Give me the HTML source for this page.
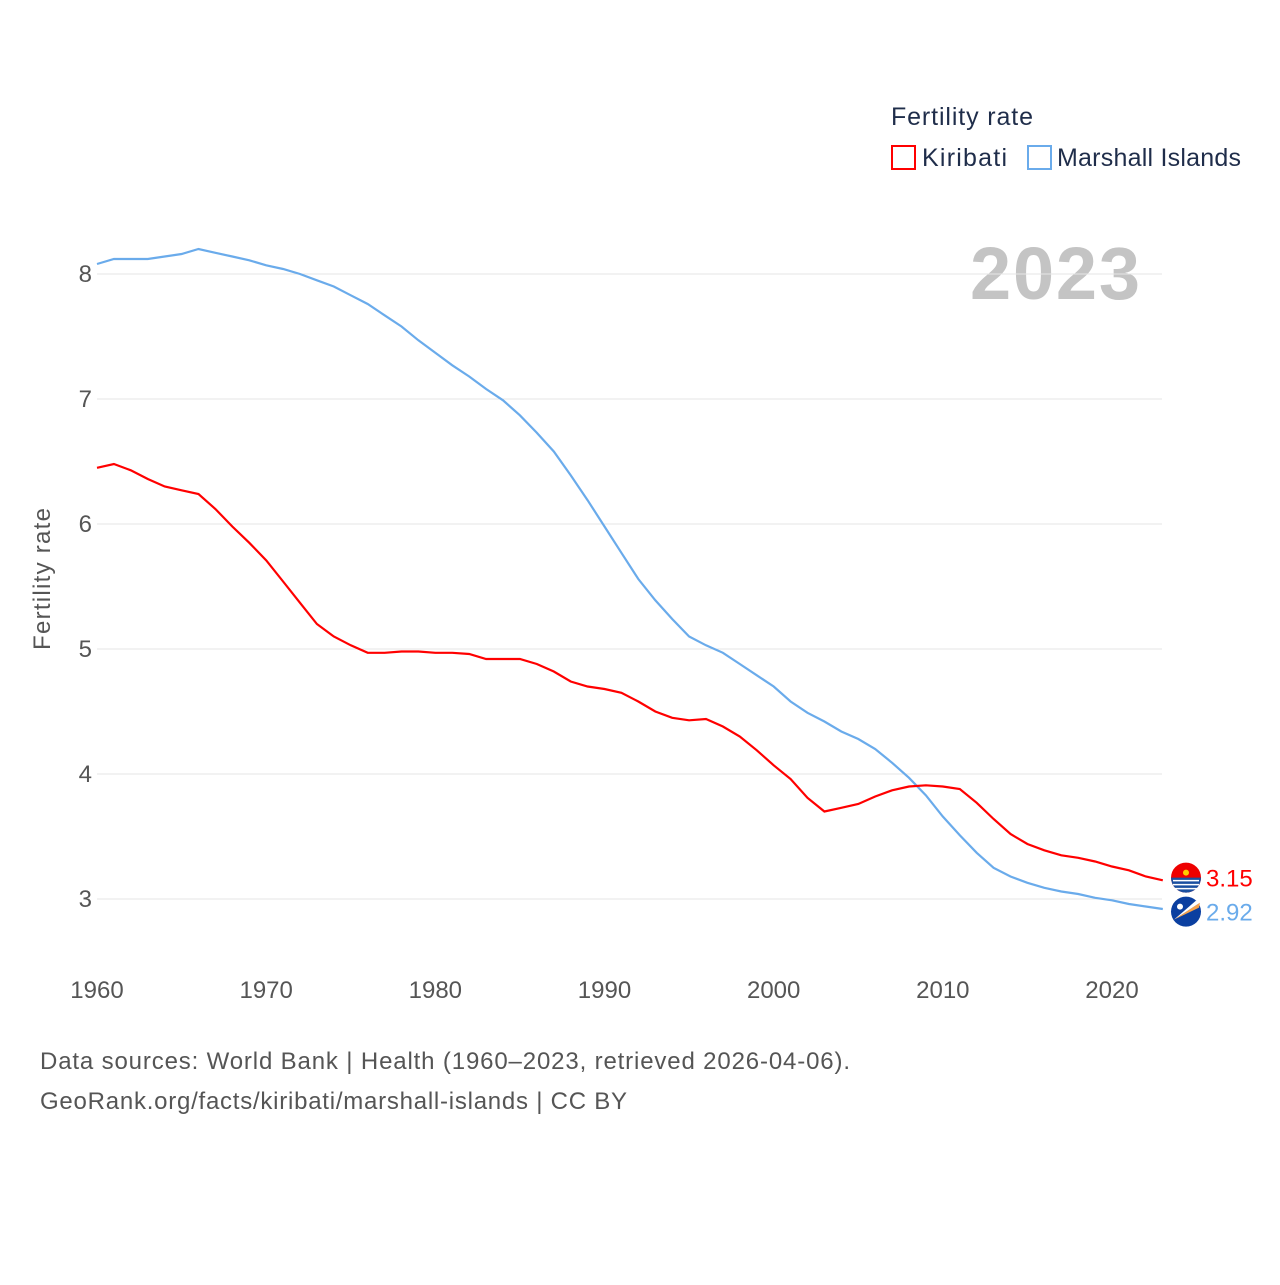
<!DOCTYPE html>
<html><head><meta charset="utf-8"><style>
body{margin:0;background:#fff;font-family:"Liberation Sans",sans-serif}
svg text{font-family:"Liberation Sans",sans-serif}
</style></head><body>
<svg id="chart" width="1280" height="1280" viewBox="0 0 1280 1280">
<text x="891" y="125" font-size="25" fill="#1f2d4a" textLength="142">Fertility rate</text>
<g><rect x="892" y="146" width="23" height="23" fill="none" stroke="#f00" stroke-width="2"/><text x="922" y="166" font-size="25" fill="#1f2d4a" textLength="85">Kiribati</text></g>
<g><rect x="1028" y="146" width="23" height="23" fill="none" stroke="#6aabeb" stroke-width="2"/><text x="1057" y="166" font-size="25" fill="#1f2d4a" textLength="184">Marshall Islands</text></g>
<text x="970" y="299" font-size="74" font-weight="bold" fill="#c4c4c4" textLength="170">2023</text>
<text transform="translate(50,579) rotate(-90)" font-size="24" fill="#555" text-anchor="middle" textLength="142">Fertility rate</text>
<g id="grid"></g><g id="xt"></g><g id="lines"></g>
<text x="40" y="1069" font-size="24" fill="#555" textLength="810">Data sources: World Bank | Health (1960–2023, retrieved 2026-04-06).</text>
<text x="40" y="1109" font-size="24" fill="#555" textLength="587">GeoRank.org/facts/kiribati/marshall-islands | CC BY</text>
</svg>
<script>
const years=[];for(let y=1960;y<=2023;y++)years.push(y);
const yTicks=[3,4,5,6,7,8];
const xTicks=[1960,1970,1980,1990,2000,2010,2020];
const kiribati=[6.45,6.48,6.43,6.36,6.3,6.27,6.24,6.12,5.98,5.85,5.71,5.54,5.37,5.2,5.1,5.03,4.97,4.97,4.98,4.98,4.97,4.97,4.96,4.92,4.92,4.92,4.88,4.82,4.74,4.7,4.68,4.65,4.58,4.5,4.45,4.43,4.44,4.38,4.3,4.19,4.07,3.96,3.81,3.7,3.73,3.76,3.82,3.87,3.9,3.91,3.9,3.88,3.77,3.64,3.52,3.44,3.39,3.35,3.33,3.3,3.26,3.23,3.18,3.15];
const marshall=[8.08,8.12,8.12,8.12,8.14,8.16,8.2,8.17,8.14,8.11,8.07,8.04,8.0,7.95,7.9,7.83,7.76,7.67,7.58,7.47,7.37,7.27,7.18,7.08,6.99,6.87,6.73,6.58,6.39,6.19,5.98,5.77,5.56,5.39,5.24,5.1,5.03,4.97,4.88,4.79,4.7,4.58,4.49,4.42,4.34,4.28,4.2,4.09,3.97,3.83,3.66,3.51,3.37,3.25,3.18,3.13,3.09,3.06,3.04,3.01,2.99,2.96,2.94,2.92];
const X=y=>97+(y-1960)*(1112-97)/60, Y=v=>899-(v-3)*125;
const NS='http://www.w3.org/2000/svg';
function mk(t,a,p){const e=document.createElementNS(NS,t);for(const k in a)e.setAttribute(k,a[k]);p.appendChild(e);return e;}
const g=document.getElementById('grid');
yTicks.forEach(v=>{const l=mk('line',{x1:97,x2:1162,y1:Y(v),y2:Y(v),stroke:'#e6e6e6','stroke-width':1},g);


const t=mk('text',{x:92,y:Y(v)+8,'font-size':24,fill:'#555','text-anchor':'end'},g);t.textContent=v;

});
const xt=document.getElementById('xt');
xTicks.forEach(v=>{const t=mk('text',{x:X(v),y:998,'font-size':24,fill:'#555','text-anchor':'middle'},xt);t.textContent=v;

});
const L=document.getElementById('lines');
function series(d,c,name){const p=mk('path',{d:d.map((v,i)=>(i?'L':'M')+X(years[i]).toFixed(1)+','+Y(v).toFixed(1)).join(''),fill:'none',stroke:c,'stroke-width':2.2},L);

}
series(marshall,'#6aabeb','marshall-islands');series(kiribati,'#f00','kiribati');
const kl=kiribati[kiribati.length-1],ml=marshall[marshall.length-1];
let ky=Y(kl),my=Y(ml);if(my-ky<34){const m=(ky+my)/2;ky=m-17;my=m+17;}
const f1=mk('g',{},L);


mk('circle',{cx:1186,cy:ky,r:15,fill:'#e00'},f1);
mk('path',{d:`M1171,${ky} A15,15 0 0 0 1201,${ky} Z`,fill:'#1a4fa0'},f1);
for(let i=0;i<3;i++)mk('line',{x1:1173,x2:1199,y1:ky+3+i*4,y2:ky+3+i*4,stroke:'#fff','stroke-width':1.5},f1);
mk('circle',{cx:1186,cy:ky-5,r:3,fill:'#fc0'},f1);
const f2=mk('g',{},L);


mk('circle',{cx:1186,cy:my,r:15,fill:'#0b3fa0'},f2);
mk('path',{d:`M1174,${my+8} L1200,${my-9} L1199,${my-4} Z`,fill:'#f7a24a'},f2);
mk('path',{d:`M1174,${my+8} L1200,${my-9} L1196,${my-11} Z`,fill:'#fff'},f2);
mk('circle',{cx:1180,cy:my-5,r:3,fill:'#fff'},f2);
const t1=mk('text',{x:1206,y:ky+9,'font-size':24,fill:'#f00'},L);t1.textContent=kl.toFixed(2);


const t2=mk('text',{x:1206,y:my+9,'font-size':24,fill:'#6aabeb'},L);t2.textContent=ml.toFixed(2);


</script>
</body></html>
